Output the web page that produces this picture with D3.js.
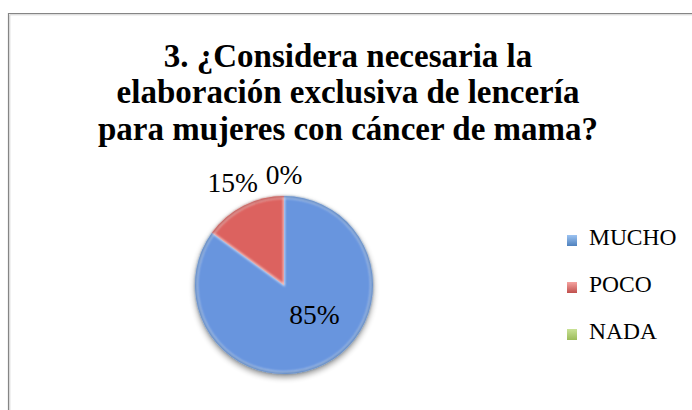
<!DOCTYPE html>
<html><head><meta charset="utf-8">
<script src="https://cdn.jsdelivr.net/npm/d3@7"></script>
<style>html,body{margin:0;padding:0;background:#fff;overflow:hidden}</style>
</head><body>
<svg id="c" width="692" height="410"></svg>
<script>
const titleLines = ["3. ¿Considera necesaria la", "elaboración exclusiva de lencería", "para mujeres con cáncer de mama?"];
const categories = ["MUCHO", "POCO", "NADA"];
const values = [85, 15, 0];
const labels = ["85%", "15%", "0%"];
const baseColors = ["#4F81BD", "#C0504D", "#9BBB59"];
const lightColors = ["#9CC3F2", "#F5A3A0", "#C9E296"];
const midColors = ["#80ACEB", "#EC817E", "#B0D070"];
const edgeColors = ["#6895DE", "#DC625E", "#98BC58"];

const svg = d3.select("#c");
const W = 692, H = 410;
const defs = svg.append("defs");

svg.append("rect").attr("width", W).attr("height", H).attr("fill", "#fff");
svg.append("path").attr("d", "M8.5,410 V13.5 H692").attr("fill", "none").attr("stroke", "#858585").attr("stroke-width", 1.2);
svg.append("path").attr("d", "M9.8,410 V14.8 H692").attr("fill", "none").attr("stroke", "#d0d0d0").attr("stroke-width", 1);

const serif = "'Liberation Serif', 'Times New Roman', serif";
const title = svg.append("g");
const baselines = [67, 103, 140];
let tfs = 29;
const tt = title.selectAll("text").data(titleLines).join("text")
  .attr("x", 348).attr("y", (d, i) => baselines[i])
  .attr("text-anchor", "middle").attr("font-family", serif)
  .attr("font-weight", "bold").attr("font-size", tfs).attr("fill", "#000")
  .text(d => d);
const w2 = tt.nodes()[1].getComputedTextLength();
tfs = tfs * 463 / w2;
tt.attr("font-size", tfs);

const cx = 284, cy = 285, R = 89;
const pie = d3.pie().sort(null).value(d => d);
const arcs = pie(values);
const arc = d3.arc().innerRadius(0).outerRadius(R);

const f = defs.append("filter").attr("id", "sh").attr("x", "-30%").attr("y", "-30%").attr("width", "160%").attr("height", "160%");
f.append("feGaussianBlur").attr("in", "SourceAlpha").attr("stdDeviation", 3).attr("result", "b");
f.append("feOffset").attr("in", "b").attr("dy", 3).attr("result", "o");
f.append("feComponentTransfer").attr("in", "o").attr("result", "o2")
  .append("feFuncA").attr("type", "linear").attr("slope", 0.45);
const fm = f.append("feMerge");
fm.append("feMergeNode").attr("in", "o2");
fm.append("feMergeNode").attr("in", "SourceGraphic");

const bf = defs.append("filter").attr("id", "bv").attr("x", "-10%").attr("y", "-10%").attr("width", "120%").attr("height", "120%");
bf.append("feGaussianBlur").attr("stdDeviation", 1.1);

categories.forEach((c, i) => {
  const g = defs.append("radialGradient").attr("id", "g" + i)
    .attr("gradientUnits", "userSpaceOnUse")
    .attr("cx", cx).attr("cy", cy).attr("fx", cx).attr("fy", cy - 30).attr("r", R);
  g.append("stop").attr("offset", "0%").attr("stop-color", lightColors[i]);
  g.append("stop").attr("offset", "60%").attr("stop-color", midColors[i]);
  g.append("stop").attr("offset", "100%").attr("stop-color", edgeColors[i]);
  const lg = defs.append("linearGradient").attr("id", "lg" + i).attr("x1", 0).attr("y1", 0).attr("x2", 0).attr("y2", 1);
  lg.append("stop").attr("offset", "0%").attr("stop-color", lightColors[i]);
  lg.append("stop").attr("offset", "100%").attr("stop-color", baseColors[i]);
});

const pg = svg.append("g").attr("transform", `translate(${cx},${cy})`);
const pieG = pg.append("g").attr("filter", "url(#sh)");
pieG.selectAll("path.s").data(arcs.filter(d => d.value > 0)).join("path")
  .attr("class", "s").attr("d", arc).attr("fill", d => `url(#g${d.index})`);
pg.append("g").attr("filter", "url(#bv)").selectAll("path").data(arcs.filter(d => d.value > 0)).join("path")
  .attr("d", d3.arc().innerRadius(R - 1.6).outerRadius(R - 0.3))
  .attr("fill", d => d3.color(baseColors[d.index]).darker(0.5));
pg.append("g").attr("filter", "url(#bv)").selectAll("path").data(arcs.filter(d => d.value > 0)).join("path")
  .attr("d", d3.arc().innerRadius(0).outerRadius(R - 2)).attr("fill", "none")
  .attr("stroke", "rgba(255,255,255,0.5)").attr("stroke-width", 1.6);

const lfs = 27.5;
function labelPos(d) {
  const mid = (d.startAngle + d.endAngle) / 2;
  if (d.data / d3.sum(values) > 0.5) {
    const a = mid - 0.3, r = R * 0.49;
    return [Math.sin(a) * r, -Math.cos(a) * r];
  }
  const r = d.value === 0 ? R * 1.23 : R * 1.27;
  return [Math.sin(mid) * r, -Math.cos(mid) * r];
}
pg.selectAll("text.l").data(arcs).join("text").attr("class", "l")
  .attr("x", d => labelPos(d)[0]).attr("y", d => labelPos(d)[1] + 8)
  .attr("text-anchor", "middle").attr("font-family", serif).attr("font-size", lfs)
  .attr("fill", "#000").text((d, i) => labels[i]);

const leg = svg.append("g");
const ly = d3.scalePoint().domain(categories).range([245, 339]);
categories.forEach((c, i) => {
  leg.append("rect").attr("x", 567).attr("y", ly(c) - 10).attr("width", 10).attr("height", 11)
    .attr("fill", `url(#lg${i})`);
  leg.append("text").attr("x", 589).attr("y", ly(c)).attr("font-family", serif)
    .attr("font-size", 23.5).attr("fill", "#000").text(c);
});
</script>
</body></html>
